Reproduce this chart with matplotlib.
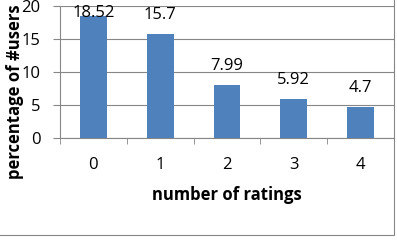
import matplotlib.pyplot as plt
from matplotlib.patches import Rectangle

plt.rcParams['font.family'] = ['Open Sans', 'DejaVu Sans']

categories = ['0', '1', '2', '3', '4']
percentages = [18.52, 15.7, 7.99, 5.92, 4.7]

fig = plt.figure(figsize=(3.97, 2.42), dpi=100)
ax = fig.add_axes([60/397, 1 - 138/242, 334/397, 132/242])

xs = range(len(categories))
ax.bar(xs, percentages, width=0.4, color='#4F81BD', zorder=3)

for x, v in zip(xs, percentages):
    ax.text(x, min(v + 2.9, 19.0), '%g' % v, ha='center', va='center',
            fontsize=12, color='black', zorder=4)

ax.set_xlim(-0.5, 4.5)
ax.set_ylim(0, 20)
ax.set_yticks([0, 5, 10, 15, 20])
ax.set_xticks(xs)
ax.set_xticklabels(categories)
ax.set_xticks([-0.5, 0.5, 1.5, 2.5, 3.5, 4.5], minor=True)
ax.tick_params(axis='x', which='major', length=0, pad=14, labelsize=12)
ax.tick_params(axis='x', which='minor', length=4, color='#868686', direction='out')
ax.tick_params(axis='y', length=5, color='#868686', pad=9, labelsize=12)
ax.grid(axis='y', color='#868686', linewidth=0.8, zorder=0)

for s in ['top', 'right']:
    ax.spines[s].set_visible(False)
for s in ['left', 'bottom']:
    ax.spines[s].set_color('#868686')
    ax.spines[s].set_linewidth(0.8)

fig.text(227/397, 1 - 195/242, 'number of ratings', ha='center', va='center',
         fontsize=12, fontweight='bold')
fig.text(15/397, 1 - 92/242, 'percentage of #users', ha='center', va='center',
         rotation=90, fontsize=12, fontweight='bold')

fig.patches.append(Rectangle((-0.1, 1 - 235/242), 394/397 + 0.1, 1.2,
                             transform=fig.transFigure, fill=False,
                             edgecolor='#868686', linewidth=0.8))

fig.savefig('out.png', dpi=100)
